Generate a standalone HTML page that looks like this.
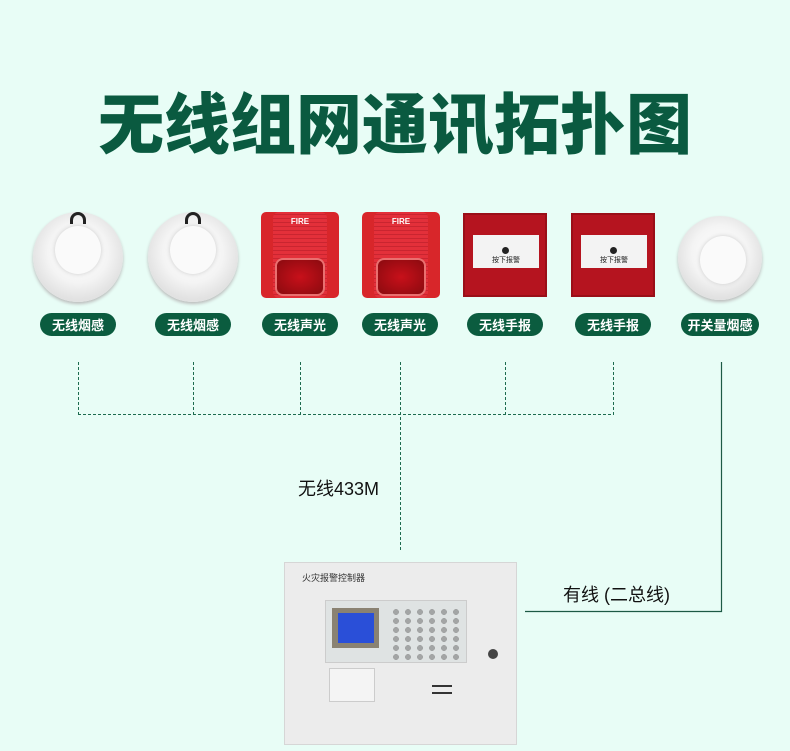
<!DOCTYPE html>
<html><head><meta charset="utf-8"><style>
*{margin:0;padding:0;box-sizing:border-box}
body{width:790px;height:751px;background:#e8fdf6;position:relative;overflow:hidden;font-family:"Liberation Sans","Noto Sans CJK SC",sans-serif}
.a{position:absolute}
.title{left:0;width:790px;top:80px;text-align:center;font-size:66px;font-weight:900;color:#0a5a40;line-height:80px;letter-spacing:0px;font-family:"Noto Sans CJK SC",sans-serif}
.pill{position:absolute;top:313px;height:23px;width:76px;margin-left:-38px;border-radius:12px;background:#0b5c3f;color:#fff;font-size:13px;font-weight:bold;text-align:center;line-height:23px;font-family:"Noto Sans CJK SC",sans-serif;white-space:nowrap}
.smoke{position:absolute;width:90px;height:90px;margin-left:-45px;top:212px;border-radius:50%;background:radial-gradient(circle at 50% 45%,#fff 0,#f4f4f4 45%,#e2e2e2 70%,#d8d8d8 100%);box-shadow:0 2px 3px #bbb}
.smoke i{position:absolute;left:22px;top:14px;width:46px;height:48px;border-radius:50%;background:#fafafa;box-shadow:0 0 4px #ccc}
.snd{position:absolute;top:212px;width:78px;height:86px;background:#d8262a;border-radius:5px}
.snd .b{position:absolute;left:12px;top:0;width:54px;height:86px;background:repeating-linear-gradient(0deg,#e3303a 0 3px,#c92530 3px 4px);border-radius:6px}
.snd .l{position:absolute;left:14px;top:46px;width:50px;height:38px;border-radius:8px;background:radial-gradient(#c8101a,#8a0a0f);border:2px solid #e97070}
.snd .f{position:absolute;left:0;width:78px;top:5px;text-align:center;color:#fff;font-size:8px;font-weight:bold}
.mcp{position:absolute;top:213px;width:84px;height:84px;background:#b5141f;border:2px solid #9a0f18}
.mcp .w{position:absolute;left:8px;top:20px;width:66px;height:33px;background:#f3f3f3}
.mcp .w span{position:absolute;left:0;width:66px;top:20px;text-align:center;font-size:7px;color:#222}
.mcp .w b{position:absolute;left:29px;top:12px;width:7px;height:7px;border-radius:50%;background:#222}
</style></head><body>
<div class="a title">无线组网通讯拓扑图</div>

<div class="smoke" style="left:78px"><i></i></div>
<div class="a" style="left:70px;top:212px;width:16px;height:12px;border:3px solid #222;border-bottom:none;border-radius:8px 8px 0 0"></div>
<div class="smoke" style="left:193px"><i></i></div>
<div class="a" style="left:185px;top:212px;width:16px;height:12px;border:3px solid #222;border-bottom:none;border-radius:8px 8px 0 0"></div>
<div class="snd" style="left:261px"><div class="b"></div><div class="l"></div><div class="f">FIRE</div></div>
<div class="snd" style="left:362px"><div class="b"></div><div class="l"></div><div class="f">FIRE</div></div>
<div class="mcp" style="left:463px"><div class="w"><b></b><span>按下报警</span></div></div>
<div class="mcp" style="left:571px"><div class="w"><b></b><span>按下报警</span></div></div>
<div class="smoke" style="left:720px;width:84px;height:84px;margin-left:-42px;top:216px"><i style="left:22px;top:20px"></i></div>

<div class="pill" style="left:78px">无线烟感</div>
<div class="pill" style="left:193px">无线烟感</div>
<div class="pill" style="left:300px">无线声光</div>
<div class="pill" style="left:400px">无线声光</div>
<div class="pill" style="left:505px">无线手报</div>
<div class="pill" style="left:613px">无线手报</div>
<div class="pill" style="left:720px;width:78px;margin-left:-39px">开关量烟感</div>

<svg class="a" style="left:0;top:0" width="790" height="751">
<g stroke="#1d6b4f" stroke-width="1" stroke-dasharray="3,2" fill="none">
<line x1="78.5" y1="362" x2="78.5" y2="414"/>
<line x1="193.5" y1="362" x2="193.5" y2="414"/>
<line x1="300.5" y1="362" x2="300.5" y2="414"/>
<line x1="400.5" y1="362" x2="400.5" y2="551"/>
<line x1="505.5" y1="362" x2="505.5" y2="414"/>
<line x1="613.5" y1="362" x2="613.5" y2="414"/>
<line x1="78" y1="414.5" x2="614" y2="414.5"/>
</g>
<polyline points="721.5,362 721.5,611.5 525,611.5" stroke="#1d5a45" stroke-width="1.2" fill="none"/>
</svg>
<div class="a" style="left:298px;top:475px;font-size:18px;color:#111">无线433M</div>
<div class="a" style="left:563px;top:581px;font-size:18px;color:#111">有线 (二总线)</div>

<div class="a" style="left:284px;top:562px;width:233px;height:183px;background:#ececec;border:1px solid #d6d6d6">
<div class="a" style="left:17px;top:8px;font-size:9px;color:#333">火灾报警控制器</div>
<div class="a" style="left:40px;top:37px;width:142px;height:63px;background:#dfe3e3;border:1px solid #ccc">
<div class="a" style="left:6px;top:7px;width:47px;height:40px;background:#8a8272"><div class="a" style="left:6px;top:5px;width:36px;height:30px;background:#2a4fd8"></div></div>
<div class="a" style="left:64px;top:5px;width:72px;height:54px;background:repeating-radial-gradient(circle at 6px 6px,#666 0 3px,transparent 3px 100%);background-size:12px 9px;opacity:.5"></div>
</div>
<div class="a" style="left:44px;top:105px;width:46px;height:34px;background:#f4f4f4;border:1px solid #ccc"></div>
<div class="a" style="left:147px;top:122px;width:20px;height:9px;border-top:2px solid #333;border-bottom:2px solid #333"></div>
<div class="a" style="left:203px;top:86px;width:10px;height:10px;border-radius:50%;background:#444"></div>
</div>
</body></html>
